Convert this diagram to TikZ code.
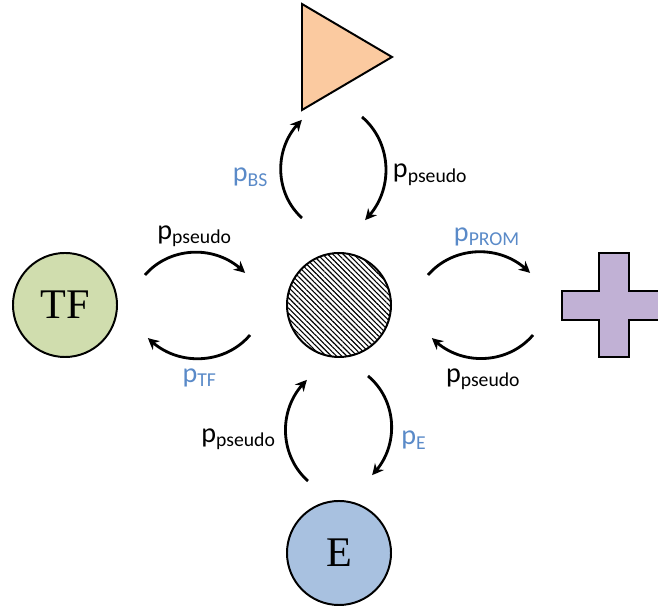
\documentclass[tikz,border=0pt]{standalone}
\usepackage{fontspec}
\setmainfont{Liberation Serif}
\newfontfamily\lblfont{Carlito}
\usetikzlibrary{arrows.meta, bending, patterns.meta, calc}
\usepackage{xcolor}
\definecolor{TFGreen}{HTML}{D0DDAE}
\definecolor{EBlue}{HTML}{A8C1E0}
\definecolor{BSOrange}{HTML}{FBCAA0}
\definecolor{PromPurple}{HTML}{C1B1D5}
\definecolor{RateBlue}{HTML}{5A8AC8}

\begin{document}
\begin{tikzpicture}[x=0.025cm, y=0.025cm,
            species/.style={circle, draw=black, line width=1.4pt, minimum size=2.6cm, inner sep=0pt, font=\fontsize{30}{30}\selectfont},
            shapeline/.style={draw=black, line width=1.4pt},
            arc/.style={-{Stealth[length=8pt, width=8pt, bend]}, line width=2pt, bend left=48},
            lbl/.style={font=\lblfont\fontsize{20}{22}\selectfont, inner sep=2pt},
            rate/.style={lbl, text=RateBlue}
        ]
            \useasboundingbox (0,0) rectangle (658,609);

            % Species
            \node[species, fill=TFGreen] (tf) at (65,304) {TF};
            \node[species, pattern={Lines[angle=-45, distance=2.6pt, line width=0.8pt]}] (dna) at (339,304) {};
            \node[species, fill=EBlue] (e) at (339,56) {E};

            % Binding site and promoter shapes
            \draw[shapeline, fill=BSOrange] (302,605) -- (302,499) -- (392,552) -- cycle;
            \draw[shapeline, fill=PromPurple] (562,318) -- (599,318) -- (599,356) -- (629,356) -- (629,318)
                -- (666,318) -- (666,289) -- (629,289) -- (629,252) -- (599,252) -- (599,289) -- (562,289) -- cycle;

            % Arc end points
            \coordinate (bs1) at (302,391);  \coordinate (bs2) at (302,489);
            \coordinate (bs3) at (362,492);  \coordinate (bs4) at (365,389);
            \coordinate (tf1) at (145,334);  \coordinate (tf2) at (245,336);
            \coordinate (tf3) at (250,274);  \coordinate (tf4) at (148,271);
            \coordinate (pr1) at (428,334);  \coordinate (pr2) at (530,336);
            \coordinate (pr3) at (533,274);  \coordinate (pr4) at (432,271);
            \coordinate (e1) at (308,128);   \coordinate (e2) at (307,229);
            \coordinate (e3) at (368,233);   \coordinate (e4) at (372,134);

            % Transitions
            \draw[arc] (bs1) to node[rate, left=6pt, yshift=-6pt]{p\textsubscript{BS}} (bs2);
            \draw[arc] (bs3) to node[lbl, right=2pt, yshift=-5pt]{p\textsubscript{pseudo}} (bs4);
            \draw[arc] (tf1) to node[lbl, above=4pt, yshift=-3pt]{p\textsubscript{pseudo}} (tf2);
            \draw[arc] (tf3) to node[rate, below=4pt]{p\textsubscript{TF}} (tf4);
            \draw[arc] (pr1) to node[rate, above=4pt, xshift=6pt, yshift=-3pt]{p\textsubscript{PROM}} (pr2);
            \draw[arc] (pr3) to node[lbl, below=4pt]{p\textsubscript{pseudo}} (pr4);
            \draw[arc] (e1) to node[lbl, left=4pt, yshift=-6pt]{p\textsubscript{pseudo}} (e2);
            \draw[arc] (e3) to node[rate, right=4pt, yshift=-11pt]{p\textsubscript{E}} (e4);
        \end{tikzpicture}
\end{document}
